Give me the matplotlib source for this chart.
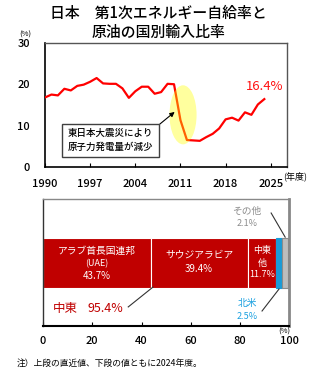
import matplotlib
matplotlib.use("Agg")
import matplotlib.pyplot as plt
from matplotlib.patches import Ellipse

plt.rcParams['font.family'] = ['Noto Sans CJK JP', 'DejaVu Sans']

# ---- top chart data: energy self-sufficiency rate (%) ----
years = list(range(1990, 2025))
self_suff = [16.8, 17.5, 17.3, 18.9, 18.5, 19.6, 19.9, 20.6, 21.5, 20.2,
             20.1, 20.1, 19.0, 16.7, 18.3, 19.4, 19.4, 17.7, 18.1, 20.1,
             20.0, 11.3, 6.5, 6.4, 6.3, 7.2, 8.0, 9.3, 11.5, 11.9,
             11.2, 13.2, 12.6, 15.1, 16.4]
x_ticks = [1990, 1997, 2004, 2011, 2018, 2025]
y_ticks = [0, 10, 20, 30]

# ---- bottom chart data: crude oil imports by origin (%) ----
seg_names = ['アラブ首長国連邦\n(UAE)', 'サウジアラビア', '中東\n他', '北米', 'その他']
seg_values = [43.7, 39.4, 11.7, 2.5, 2.1]
seg_colors = ['#C00000', '#C00000', '#C00000', '#1A9BD7', '#BDBDBD']
seg_edges = ['white', 'white', 'white', '#1A9BD7', '#8C8C8C']
mideast_total = 95.4
bx_ticks = [0, 20, 40, 60, 80, 100]

fig = plt.figure(figsize=(3.17, 3.70), dpi=100)

fig.text(0.5, 0.963, '日本　第1次エネルギー自給率と', ha='center', va='center', fontsize=10.7, fontweight='medium')
fig.text(0.5, 0.912, '原油の国別輸入比率', ha='center', va='center', fontsize=10.7, fontweight='medium')

# ---------------- top axes ----------------
ax = fig.add_axes([0.142, 0.549, 0.763, 0.335])
ax.plot(years, self_suff, color='#FF0000', lw=1.6, zorder=3, solid_joinstyle='round')
ell = Ellipse((2011.4, 12.6), 4.2, 14.3, facecolor='#FFFF00', edgecolor='none', alpha=0.38, zorder=4)
ax.add_patch(ell)
ax.set_xlim(1990, 2027.5)
ax.set_ylim(0, 30)
ax.set_xticks(x_ticks)
ax.set_yticks(y_ticks)
ax.tick_params(axis='x', direction='in', length=3, pad=9, labelsize=8)
ax.tick_params(axis='y', length=0, pad=11, labelsize=8)
for lab in ax.get_xticklabels() + ax.get_yticklabels():
    lab.set_fontweight('medium')
for s in ['left', 'bottom']:
    ax.spines[s].set_color('black')
    ax.spines[s].set_linewidth(1.2)
for s in ['top', 'right']:
    ax.spines[s].set_color('#555555')
    ax.spines[s].set_linewidth(1.0)

ax.text(2024.1, 19.4, '16.4%', color='#FF1010', fontsize=9.4, ha='center', va='center')
ax.annotate('東日本大震災により\n原子力発電量が減少', xy=(2010.1, 13.3), xytext=(2000.2, 6.4),
            ha='center', va='center', fontsize=6.8, linespacing=1.5, fontweight='medium',
            bbox=dict(boxstyle='square,pad=0.6', fc='white', ec='#404040', lw=1.0),
            arrowprops=dict(arrowstyle='-|>,head_length=0.4,head_width=0.2', color='black', lw=0.8,
                            shrinkA=0, shrinkB=0, relpos=(1.0, 1.0)), zorder=5)
fig.text(25 / 317, 1 - 35 / 370, '(%)', fontsize=5.5, ha='center', va='center')
fig.text(295 / 317, 1 - 176 / 370, '(年度)', fontsize=6.5, ha='center', va='center')

# ---------------- bottom axes ----------------
bx = fig.add_axes([0.136, 0.119, 0.776, 0.343])
left = 0
for v, c, e in zip(seg_values, seg_colors, seg_edges):
    bx.barh(0.495, v, height=0.39, left=left, color=c, edgecolor=e, linewidth=0.8, zorder=2)
    left += v
bx.set_xlim(0, 100)
bx.set_ylim(0, 1)
bx.set_yticks([])
bx.set_xticks(bx_ticks)
bx.tick_params(axis='x', direction='in', length=3, pad=7, labelsize=8)
for lab in bx.get_xticklabels():
    lab.set_fontweight('medium')
bx.spines['bottom'].set_color('black')
bx.spines['bottom'].set_linewidth(1.5)
bx.spines['left'].set_color('#333333')
bx.spines['left'].set_linewidth(1.0)
bx.spines['top'].set_color('#888888')
bx.spines['top'].set_linewidth(1.0)
bx.spines['right'].set_color('#888888')
bx.spines['right'].set_linewidth(2.0)

c0 = seg_values[0] / 2
c1 = seg_values[0] + seg_values[1] / 2
c2 = seg_values[0] + seg_values[1] + seg_values[2] / 2
bx.text(c0, 0.594, seg_names[0].split('\n')[0], color='white', fontsize=7, ha='center', va='center')
bx.text(c0, 0.492, seg_names[0].split('\n')[1], color='white', fontsize=6.5, ha='center', va='center')
bx.text(c0, 0.39, f'{seg_values[0]}%', color='white', fontsize=7, ha='center', va='center')
bx.text(c1, 0.567, seg_names[1], color='white', fontsize=7, ha='center', va='center')
bx.text(c1, 0.449, f'{seg_values[1]}%', color='white', fontsize=7, ha='center', va='center')
bx.text(c2, 0.591, seg_names[2].split('\n')[0], color='white', fontsize=6.5, ha='center', va='center')
bx.text(c2, 0.496, seg_names[2].split('\n')[1], color='white', fontsize=6.5, ha='center', va='center')
bx.text(c2, 0.409, f'{seg_values[2]}%', color='white', fontsize=6.5, ha='center', va='center')

bx.text(82.9, 0.906, seg_names[4], color='#8C8C8C', fontsize=7, ha='center', va='center')
bx.text(82.9, 0.806, f'{seg_values[4]}%', color='#8C8C8C', fontsize=6.5, ha='center', va='center')
bx.plot([92.7, 98.4], [0.89, 0.70], color='#333333', lw=0.8)

bx.text(82.9, 0.181, seg_names[3], color='#1AA0E0', fontsize=7, ha='center', va='center')
bx.text(82.9, 0.076, f'{seg_values[3]}%', color='#1AA0E0', fontsize=6.5, ha='center', va='center')
bx.plot([89.0, 95.9], [0.118, 0.291], color='#333333', lw=0.8)

bx.text(4.1, 0.134, '中東', color='#C00000', fontsize=9, ha='left', va='center')
bx.text(17.9, 0.134, f'{mideast_total}%', color='#C00000', fontsize=9, ha='left', va='center')
bx.plot([34.6, 44.7], [0.15, 0.307], color='#333333', lw=0.8)

fig.text(284 / 317, 1 - 332 / 370, '(%)', fontsize=5.5, ha='center', va='center')
fig.text(17 / 317, 1 - 363 / 370, '注）上段の直近値、下段の値ともに2024年度。', fontsize=6.3, ha='left', va='center')

fig.savefig('out.png', dpi=100)
